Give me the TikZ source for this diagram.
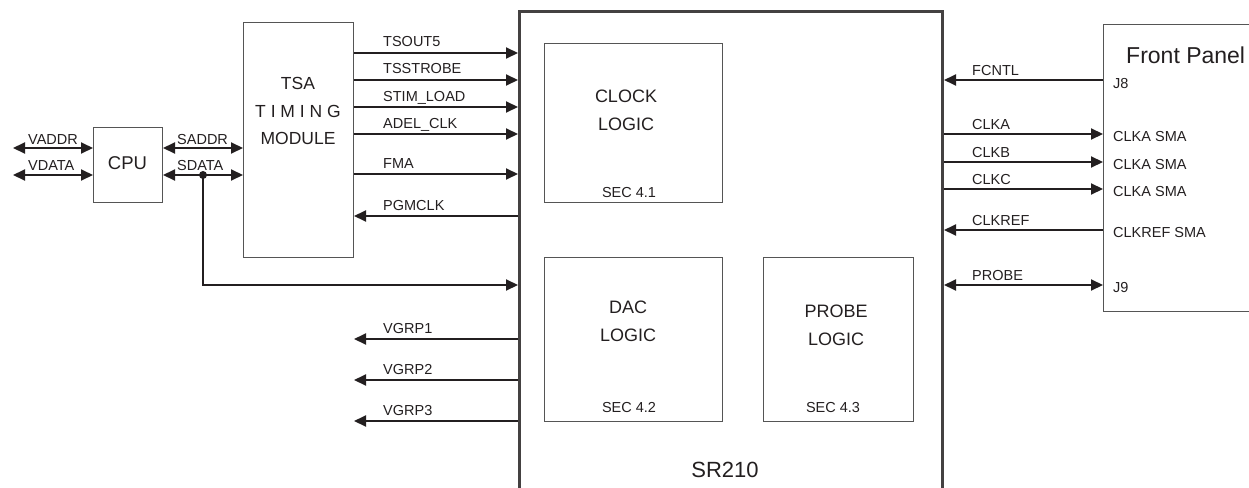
\documentclass[tikz,border=0pt]{standalone}
\usepackage{fontspec}
\setmainfont{Liberation Sans}
\usetikzlibrary{arrows.meta}
\definecolor{ink}{HTML}{231F20}
\definecolor{boxline}{HTML}{555555}
\begin{document}
\begin{tikzpicture}[x=1pt,y=-1pt,
  box/.style={draw=boxline,line width=1pt,inner sep=0pt,anchor=north west},
  sig/.style={draw=ink,line width=2pt,-{Triangle[length=12pt,width=11pt]}},
  sigl/.style={draw=ink,line width=2pt,{Triangle[length=12pt,width=11pt]}-},
  bsig/.style={draw=ink,line width=2pt,{Triangle[length=12pt,width=11pt]}-{Triangle[length=12pt,width=11pt]}},
  lab/.style={font=\fontsize{14.5}{16}\selectfont,text=ink,inner sep=0pt,anchor=base west},
  mid/.style={font=\fontsize{18}{28}\selectfont,text=ink,inner sep=0pt,align=center},
  sec/.style={font=\fontsize{14.5}{16}\selectfont,text=ink,inner sep=0pt,anchor=base}]
\useasboundingbox (0,0) rectangle (1249,487);
\clip (0,0) rectangle (1249,487);
% boxes
\node[box,minimum width=69pt,minimum height=75pt] (cpu) at (93,127) {};
\node[box,minimum width=110pt,minimum height=235pt] (tsa) at (243,22) {};
\node[draw=ink!85,line width=3pt,inner sep=0pt,anchor=north west,minimum width=423pt,minimum height=490pt] (sr) at (518,10) {};
\node[box,minimum width=178pt,minimum height=159pt] (clk) at (544,43) {};
\node[box,minimum width=178pt,minimum height=164pt] (dac) at (544,257) {};
\node[box,minimum width=150pt,minimum height=164pt] (prb) at (763,257) {};
\coordinate (fp) at (1103,25);
\draw[boxline,line width=1pt] (1260,25) -- (fp) -- (1103,311) -- (1260,311);
% box texts
\node[mid,font=\fontsize{18.5}{28}\selectfont] (cputxt) at (127.5,163) {CPU};
\node[mid,font=\fontsize{17.5}{27.5}\selectfont] (tsatxt) at (298,111) {TSA\\T I M I N G\\MODULE};
\node[mid] (clktxt) at (626,110) {CLOCK\\LOGIC};
\node[sec] (sec1) at (629,197) {SEC 4.1};
\node[mid] (dactxt) at (628,321) {DAC\\LOGIC};
\node[sec] (sec2) at (629,412) {SEC 4.2};
\node[mid] (prbtxt) at (836,325) {PROBE\\LOGIC};
\node[sec] (sec3) at (833,412) {SEC 4.3};
\node[mid,font=\fontsize{22}{26}\selectfont] (srtxt) at (725,470) {SR210};
\node[mid,font=\fontsize{23}{26}\selectfont,anchor=west] (fptxt) at (1126,55) {Front Panel};
% CPU left buses
\coordinate (vl1) at (13,148);
\coordinate (vl2) at (13,175);
\draw[bsig] (vl1) -- (cpu.west |- vl1);
\draw[bsig] (vl2) -- (cpu.west |- vl2);
\node[lab] (vaddr) at (28,144) {VADDR};
\node[lab] (vdata) at (28,170) {VDATA};
% CPU right buses
\draw[bsig] (cpu.east |- vl1) -- (tsa.west |- vl1);
\draw[bsig] (cpu.east |- vl2) -- (tsa.west |- vl2);
\node[lab] (saddr) at (177,144) {SADDR};
\node[lab] (sdata) at (177,170) {SDATA};
\coordinate (dot) at (203,175);
\coordinate (corner) at (203,285);
\fill[ink] (dot) circle (4pt);
\draw[sig] (dot) -- (corner) -- (sr.west |- corner);
% TSA -> SR210
\foreach \y/\t/\n in {53/TSOUT5/a,80/TSSTROBE/b,107/STIM\_LOAD/c,134/ADEL\_CLK/d,174/FMA/e}{
  \draw[sig] (tsa.east |- 0,\y) -- (sr.west |- 0,\y);
  \node[lab] (l\n) at (383,\y-6) {\t};
}
\draw[sigl] (tsa.east |- 0,216) -- (sr.west |- 0,216);
\node[lab] (lf) at (383,210) {PGMCLK};
% VGRP outputs
\foreach \y/\t/\n in {339/VGRP1/a,380/VGRP2/b,421/VGRP3/c}{
  \coordinate (v\n) at (354,\y);
  \draw[sigl] (v\n) -- (sr.west |- v\n);
  \node[lab] (vg\n) at (383,\y-6) {\t};
}
% right side
\draw[sigl] (sr.east |- 0,80) -- (fp |- 0,80);
\node[lab] (fcntl) at (972,75) {FCNTL};
\node[lab] (j8) at (1113,88) {J8};
\foreach \y/\t/\n in {134/CLKA/a,162/CLKB/b,189/CLKC/c}{
  \draw[sig] (sr.east |- 0,\y) -- (fp |- 0,\y);
  \node[lab] (c\n) at (972,\y-5) {\t};
  \node[lab] (s\n) at (1113,\y+7) {CLKA SMA};
}
\draw[sigl] (sr.east |- 0,230) -- (fp |- 0,230);
\node[lab] (clkref) at (972,225) {CLKREF};
\node[lab] (sref) at (1113,237) {CLKREF SMA};
\draw[bsig] (sr.east |- 0,285) -- (fp |- 0,285);
\node[lab] (probe) at (972,280) {PROBE};
\node[lab] (j9) at (1113,292) {J9};
\end{tikzpicture}
\end{document}
